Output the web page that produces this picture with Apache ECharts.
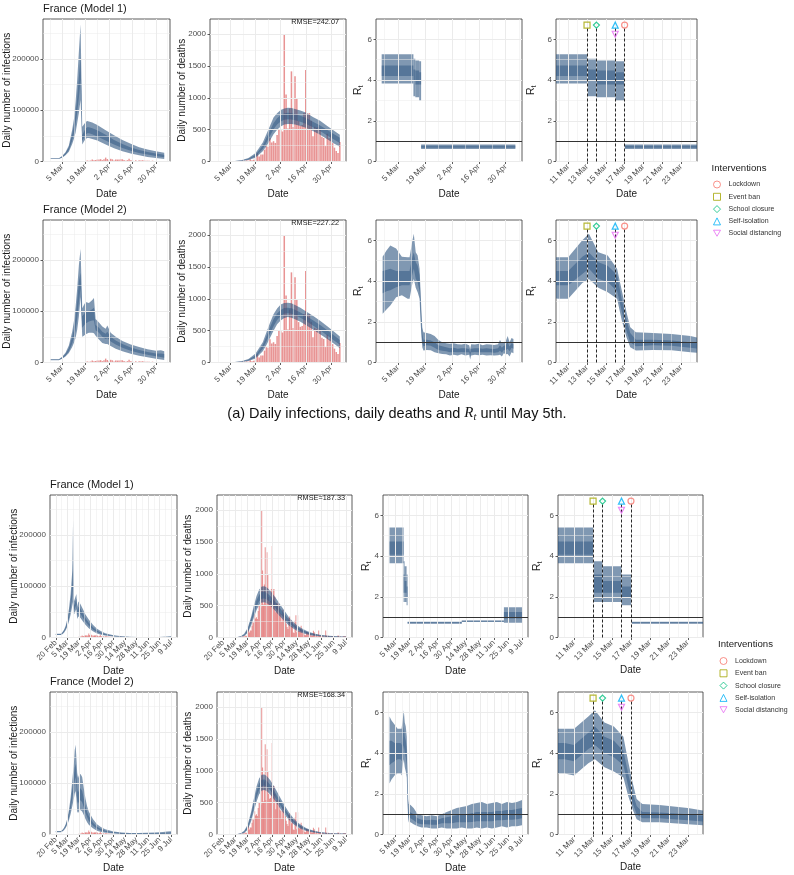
<!DOCTYPE html>
<html>
<head>
<meta charset="utf-8">
<script src="https://cdn.jsdelivr.net/npm/echarts@6/dist/echarts.min.js"></script>
<style>
  html, body { margin: 0; padding: 0; background: #fff; }
  #chart { width: 794px; height: 875px; }
</style>
</head>
<body>
<div id="chart"></div>
<script>
// days are counted from 20 Feb 2020 (day 0): 1 Mar = 10, 1 Apr = 41, 1 May = 71
const MONTHS = ['Jan', 'Feb', 'Mar', 'Apr', 'May', 'Jun', 'Jul'];

const ticksTop = [14, 28, 42, 56, 70];
const ticksLong = [0, 14, 28, 42, 56, 70, 84, 98, 112, 126, 140];
const ticksZoom = [20, 22, 24, 26, 28, 30, 32];
const ticksInf = [0, 100000, 200000];
const ticksDeaths = [0, 500, 1000, 1500, 2000];
const ticksRt = [0, 2, 4, 6];

// reported data, one value per day from day 10 (1 Mar) to day 140 (9 Jul)
const firstObsDay = 10;
const deaths = [
  0, 1, 1, 0, 2, 2, 3, 2, 8, 11,
  3, 15, 13, 18, 12, 36, 21, 27, 69, 128,
  78, 112, 112, 186, 240, 231, 365, 299, 319, 292, 418,
  499, 509, 471, 2004, 1053, 518, 833, 1417, 541, 1341,
  987, 635, 561, 574, 762, 1438, 753, 761, 642, 395,
  547, 531, 544, 516, 389, 369, 242, 437, 367, 427,
  289, 218, 166, 135, 306, 330, 278, 178, 243, 80,
  70, 263, 348, 83, 351, 104, 96, 131, 186, 110,
  65, 74, 43, 35, 90, 83, 65, 66, 52, 57,
  31, 31, 107, 81, 44, 46, 27, 13, 110, 23,
  27, 28, 24, 29, 10, 9, 111, 28, 14, 28,
  13, 10, 9, 23, 14, 11, 15, 6, 4, 2,
  30, 28, 17, 11, 2, 4, 14, 25, 12, 23
];
const cases = [
  30, 43, 61, 72, 73, 138, 190, 103, 410, 286,
  372, 497, 595, 785, 838, 924, 1210, 1097, 1404, 1861,
  1617, 1847, 3838, 2446, 2931, 3922, 3809, 4611, 2599, 4376, 7578,
  4861, 2116, 5233, 4267, 1873, 3912, 3777, 3881, 4286, 4342,
  3114, 1613, 2673, 5497, 2633, 2641, 405, 2569, 785, 2680,
  1773, 2479, 1802, 1653, 1501, 1435, 425, 1609, 1048, 1000,
  921, 801, 794, 580, 696, 1002, 600, 1300, 1284, 579,
  456, 802, 1000, 700, 600, 400, 300, 900, 600, 500,
  500, 500, 400, 300, 250, 400, 500, 300, 300, 250,
  200, 300, 400, 500, 600, 400, 300, 250, 300, 400,
  500, 450, 400, 350, 300, 400, 450, 500, 400, 350,
  300, 450, 500, 600, 400, 350, 500, 550, 400, 300,
  400, 500, 550, 600, 500, 450, 600, 650, 500, 450
];

// Model 1, until 5 May: daily infections (90% and 50% intervals)
const inf1aDays = [7, 12, 14, 16, 18, 20, 21, 22, 23, 24, 25, 26, 27, 28, 29, 30, 32, 35, 40, 45, 50, 55, 60, 65, 70, 75];
const inf1aLo90 = [4800, 4800, 7500, 12000, 19000, 34000, 44000, 56000, 75000, 95000, 120000, 33000, 39000, 44000, 46000, 46000, 44000, 41000, 33000, 26000, 20000, 15500, 12000, 9000, 7000, 5000];
const inf1aHi90 = [6200, 6200, 10500, 18000, 31000, 62000, 82000, 115000, 160000, 215000, 268000, 68000, 72000, 77000, 79000, 78000, 76000, 71000, 61000, 51000, 42000, 34500, 28000, 23500, 20000, 17000];
const inf1aLo50 = [5200, 5200, 8300, 13700, 22500, 41000, 54000, 71000, 96000, 125000, 160000, 40000, 46000, 52000, 55000, 55000, 53000, 49000, 41000, 33000, 26500, 21000, 16800, 13500, 10800, 8500];
const inf1aHi50 = [5800, 5800, 9700, 16500, 27500, 53000, 70000, 93000, 125000, 165000, 205000, 51000, 58000, 64000, 67000, 67000, 65000, 61000, 52000, 42000, 34000, 27500, 22500, 18500, 15500, 13000];

// Model 2, until 5 May: daily infections
const inf2aDays = [7, 12, 14, 16, 18, 20, 21, 22, 23, 24, 25, 26, 27, 28, 30, 32, 33, 34, 36, 38, 40, 41, 43, 46, 50, 55, 60, 65, 70, 73, 75];
const inf2aLo90 = [4500, 4500, 7200, 11500, 18500, 30000, 38000, 48000, 64000, 90000, 128000, 50000, 52000, 55000, 58000, 58000, 57000, 52000, 45000, 38000, 36000, 36000, 32000, 27000, 22000, 17000, 13000, 10000, 7500, 6000, 5000];
const inf2aHi90 = [6500, 6500, 11000, 19000, 33000, 60000, 80000, 108000, 145000, 190000, 222000, 106000, 112000, 118000, 116000, 122000, 126000, 85000, 78000, 70000, 66000, 72000, 58000, 50000, 42000, 35000, 30000, 26000, 23000, 24000, 22000];
const inf2aLo50 = [5000, 5000, 8200, 13400, 22000, 37000, 48000, 63000, 86000, 118000, 145000, 68000, 72000, 76000, 80000, 82000, 82000, 63000, 58000, 50000, 46000, 48000, 41000, 35000, 29000, 23000, 18500, 15000, 12000, 10500, 9500];
const inf2aHi50 = [6000, 6000, 9800, 16600, 28000, 50000, 66000, 88000, 120000, 158000, 175000, 90000, 94000, 99000, 100000, 104000, 107000, 73000, 68000, 60000, 56000, 60000, 50000, 43000, 36000, 29500, 24500, 20500, 17500, 17500, 16500];

// daily deaths, until 5 May (both models share the days)
const dthaDays = [10, 15, 20, 24, 28, 32, 34, 36, 38, 40, 42, 44, 46, 48, 50, 53, 56, 60, 64, 68, 72, 75];
const dth1aLo90 = [0, 1, 7, 22, 60, 160, 240, 330, 430, 500, 550, 580, 590, 590, 580, 560, 530, 480, 420, 350, 280, 230];
const dth1aHi90 = [1, 4, 20, 55, 135, 300, 430, 560, 690, 760, 810, 835, 845, 840, 825, 800, 770, 700, 640, 560, 480, 420];
const dth1aLo50 = [0, 1.5, 10, 30, 78, 195, 295, 400, 505, 580, 630, 655, 665, 662, 650, 625, 595, 540, 480, 410, 340, 290];
const dth1aHi50 = [0.5, 2.5, 15, 42, 105, 250, 370, 485, 600, 680, 730, 755, 765, 760, 745, 718, 688, 625, 565, 495, 425, 375];
const dth2aLo90 = [0, 1, 7, 22, 62, 175, 270, 385, 500, 600, 660, 700, 715, 705, 680, 640, 590, 520, 445, 370, 290, 225];
const dth2aHi90 = [1, 4, 20, 55, 140, 320, 470, 620, 760, 850, 910, 935, 940, 930, 905, 860, 805, 735, 655, 570, 480, 410];
const dth2aLo50 = [0, 1.5, 10, 30, 82, 215, 330, 450, 570, 670, 730, 765, 775, 768, 745, 705, 655, 580, 505, 425, 340, 280];
const dth2aHi50 = [0.5, 2.5, 15, 44, 112, 275, 410, 550, 680, 770, 825, 855, 860, 852, 828, 785, 735, 665, 590, 505, 420, 355];

// Model 1 R_t, piecewise constant between intervention dates
const rt1aStart = [5.5, 22, 23, 25, 26];
const rt1aEnd = [22, 23, 25, 26, 75];
const rt1aLo90 = [3.83, 3.21, 3.16, 3.0, 0.61];
const rt1aHi90 = [5.27, 5.05, 4.96, 4.93, 0.84];
const rt1aLo50 = [4.2, 3.98, 3.78, 3.78, 0.67];
const rt1aHi50 = [4.72, 4.52, 4.47, 4.39, 0.77];

// Model 2 R_t, until 5 May
const rt2aDays = [6, 8, 10, 13, 16, 19, 20, 21.5, 22.2, 23.2, 24.2, 25.2, 25.7, 26.2, 26.6, 27.2, 29, 31, 33, 35, 37, 39, 41, 43, 45, 47, 49, 51, 51.5, 52, 54, 56, 58, 60, 62, 64, 66, 67, 68, 69, 70, 71, 72, 73, 74];
const rt2aHi90 = [5.2, 5.5, 5.75, 5.6, 5.2, 5.17, 5.17, 6.0, 6.32, 5.42, 5.26, 4.6, 3.54, 2.47, 1.73, 1.49, 1.45, 1.4, 1.3, 1.1, 1.0, 0.95, 0.92, 0.95, 0.9, 0.88, 0.92, 0.85, 0.65, 0.9, 0.88, 0.92, 0.85, 0.9, 0.88, 0.86, 0.9, 1.1, 0.95, 1.0, 1.05, 1.3, 1.0, 1.2, 1.15];
const rt2aLo90 = [2.4, 2.6, 2.8, 3.2, 3.3, 3.13, 3.13, 3.9, 4.1, 3.67, 3.45, 3.13, 2.06, 1.24, 0.75, 0.59, 0.62, 0.6, 0.5, 0.45, 0.42, 0.4, 0.35, 0.38, 0.35, 0.4, 0.35, 0.38, 0.15, 0.35, 0.38, 0.36, 0.38, 0.35, 0.36, 0.34, 0.36, 0.38, 0.3, 0.45, 0.4, 0.42, 0.3, 0.5, 0.45];
const rt2aLo50 = [3.4, 3.5, 3.55, 3.7, 3.8, 3.8, 3.8, 4.35, 4.6, 4.11, 3.95, 3.5, 2.5, 1.55, 1.0, 0.8, 0.85, 0.82, 0.72, 0.62, 0.58, 0.55, 0.5, 0.52, 0.5, 0.52, 0.5, 0.5, 0.32, 0.5, 0.52, 0.5, 0.5, 0.5, 0.5, 0.48, 0.5, 0.58, 0.48, 0.62, 0.6, 0.68, 0.55, 0.72, 0.68];
const rt2aHi50 = [4.5, 4.55, 4.6, 4.5, 4.5, 4.5, 4.5, 5.2, 5.4, 4.93, 4.75, 4.3, 3.1, 2.1, 1.45, 1.12, 1.12, 1.08, 1.0, 0.85, 0.8, 0.75, 0.7, 0.72, 0.68, 0.7, 0.7, 0.66, 0.48, 0.68, 0.7, 0.7, 0.68, 0.7, 0.68, 0.66, 0.7, 0.85, 0.72, 0.82, 0.85, 1.0, 0.78, 0.95, 0.9];

// Model 1, until 9 Jul: daily infections
const inf1bDays = [0, 6, 8, 10, 12, 14, 16, 18, 20, 21, 22, 23, 24, 25, 26, 27, 28, 30, 33, 36, 40, 45, 50, 55, 60, 70, 80, 90, 100, 110, 120, 125, 130, 135, 140];
const inf1bLo90 = [5000, 5000, 6500, 9500, 14000, 21000, 31000, 45000, 62000, 70000, 45000, 48000, 52000, 55000, 36000, 40000, 41000, 38000, 31000, 25000, 18000, 12000, 8000, 5500, 3800, 1800, 900, 500, 300, 200, 150, 150, 200, 250, 300];
const inf1bHi90 = [7500, 7500, 10000, 15000, 23000, 36000, 56000, 85000, 130000, 230000, 70000, 75000, 80000, 85000, 60000, 68000, 70000, 65000, 55000, 45000, 35000, 25000, 17000, 12000, 8500, 4500, 2500, 1600, 1200, 1000, 900, 1100, 1500, 2000, 2500];
const inf1bLo50 = [5600, 5600, 7400, 11000, 16500, 25000, 38000, 56000, 80000, 100000, 52000, 56000, 60000, 64000, 43000, 48000, 50000, 46000, 38000, 31000, 23000, 15500, 10500, 7200, 5000, 2500, 1300, 800, 550, 400, 330, 380, 500, 650, 800];
const inf1bHi50 = [6800, 6800, 8900, 13200, 20000, 31000, 47000, 70000, 105000, 150000, 62000, 66000, 71000, 76000, 52000, 58000, 60000, 56000, 47000, 38000, 29000, 20000, 13500, 9400, 6500, 3400, 1800, 1100, 800, 600, 520, 650, 850, 1100, 1400];

// Model 2, until 9 Jul: daily infections
const inf2bDays = [0, 6, 8, 10, 12, 14, 16, 18, 20, 22, 23, 24, 25, 26, 27, 28, 30, 32, 34, 36, 38, 40, 45, 50, 55, 60, 70, 80, 90, 100, 110, 120, 130, 135, 140];
const inf2bLo90 = [4500, 4500, 6000, 8500, 12500, 19000, 28000, 40000, 55000, 70000, 80000, 85000, 70000, 45000, 42000, 45000, 48000, 45000, 38000, 30000, 24000, 19000, 12000, 7500, 5000, 3500, 1800, 1000, 600, 500, 500, 500, 600, 700, 700];
const inf2bHi90 = [7000, 7000, 9000, 13000, 20000, 31000, 48000, 72000, 105000, 140000, 165000, 175000, 150000, 120000, 110000, 115000, 118000, 112000, 90000, 70000, 55000, 45000, 30000, 20000, 14000, 10000, 6000, 4000, 3000, 3000, 3500, 4000, 5000, 6000, 6500];
const inf2bLo50 = [5300, 5300, 7000, 10000, 15000, 23000, 34000, 50000, 70000, 92000, 105000, 112000, 95000, 65000, 60000, 64000, 67000, 63000, 53000, 42000, 34000, 27000, 17500, 11000, 7500, 5200, 2800, 1700, 1100, 1000, 1100, 1300, 1700, 2000, 2200];
const inf2bHi50 = [6300, 6300, 8200, 11800, 18000, 27500, 41000, 61000, 88000, 115000, 130000, 138000, 120000, 90000, 82000, 86000, 90000, 85000, 70000, 55000, 44000, 36000, 23500, 15000, 10500, 7500, 4300, 2700, 1900, 1800, 2000, 2400, 3100, 3600, 4000];

// daily deaths, until 9 Jul
const dthbDays = [0, 10, 15, 20, 24, 28, 32, 35, 38, 41, 44, 47, 50, 54, 58, 62, 66, 70, 75, 80, 85, 90, 95, 100, 105, 110, 115, 120, 125, 130, 135, 140];
const dth1bLo90 = [0, 0, 1, 7, 22, 70, 190, 310, 430, 510, 550, 555, 540, 495, 440, 375, 315, 255, 190, 140, 100, 70, 50, 35, 25, 18, 12, 9, 6, 5, 4, 3];
const dth1bHi90 = [0, 1, 4, 20, 60, 150, 330, 500, 650, 750, 800, 805, 785, 730, 660, 580, 500, 420, 320, 245, 185, 140, 105, 80, 60, 45, 35, 27, 22, 18, 16, 15];
const dth1bLo50 = [0, 0, 1.5, 10, 30, 90, 230, 360, 485, 570, 610, 615, 598, 550, 490, 425, 360, 295, 225, 168, 125, 90, 66, 48, 35, 26, 19, 14, 10, 8, 7, 6];
const dth1bHi50 = [0, 0.5, 2.5, 15, 45, 125, 290, 440, 580, 670, 715, 720, 700, 650, 585, 510, 440, 370, 280, 212, 160, 120, 90, 67, 50, 38, 29, 22, 17, 14, 12, 11];
const dth2bLo90 = [0, 0, 1, 7, 22, 75, 210, 360, 510, 630, 690, 700, 680, 625, 555, 470, 390, 315, 230, 165, 115, 80, 55, 38, 26, 18, 13, 10, 8, 7, 6, 5];
const dth2bHi90 = [0, 1, 4, 20, 60, 155, 360, 560, 750, 880, 940, 945, 915, 850, 760, 660, 560, 460, 350, 260, 190, 140, 100, 75, 55, 40, 30, 24, 20, 18, 17, 16];
const dth2bLo50 = [0, 0, 1.5, 10, 30, 95, 255, 415, 580, 700, 760, 770, 748, 690, 615, 525, 440, 360, 265, 192, 138, 98, 70, 50, 36, 26, 20, 15, 12, 11, 10, 9];
const dth2bHi50 = [0, 0.5, 2.5, 15, 45, 130, 315, 500, 675, 800, 860, 865, 840, 775, 690, 595, 505, 415, 310, 228, 165, 120, 87, 64, 47, 34, 26, 21, 17, 15, 14, 13];

// Model 1 R_t until 9 Jul
const rt1bStart = [8, 22, 23, 25, 26, 80, 122];
const rt1bEnd = [22, 23, 25, 26, 80, 122, 140];
const rt1bLo90 = [3.65, 1.75, 1.75, 1.58, 0.68, 0.76, 0.73];
const rt1bHi90 = [5.4, 3.74, 3.5, 3.09, 0.77, 0.84, 1.48];
const rt1bLo50 = [4.07, 2.2, 2.2, 1.99, 0.7, 0.78, 0.93];
const rt1bHi50 = [4.72, 3.09, 2.77, 2.51, 0.75, 0.82, 1.25];

// Model 2 R_t until 9 Jul
const rt2bDays = [8, 10, 13, 16, 19, 20, 21.5, 22.2, 23.2, 24.2, 25.2, 25.7, 26.2, 26.6, 27.2, 29, 32, 36, 40, 45, 50, 55, 60, 65, 70, 75, 80, 85, 90, 95, 100, 105, 110, 115, 120, 125, 130, 135, 140];
const rt2bHi90 = [5.8, 5.6, 5.4, 5.2, 5.2, 5.2, 5.8, 6.1, 5.5, 5.3, 4.8, 3.6, 2.5, 1.75, 1.5, 1.45, 1.3, 1.0, 0.95, 0.9, 0.95, 0.9, 1.0, 1.1, 1.2, 1.3, 1.35, 1.4, 1.5, 1.55, 1.6, 1.5, 1.55, 1.6, 1.5, 1.6, 1.55, 1.6, 1.7];
const rt2bLo90 = [2.5, 2.7, 2.9, 3.0, 3.0, 2.9, 3.5, 3.7, 3.3, 3.1, 2.8, 1.9, 1.2, 0.75, 0.6, 0.6, 0.5, 0.4, 0.35, 0.35, 0.3, 0.3, 0.35, 0.3, 0.3, 0.3, 0.35, 0.3, 0.3, 0.35, 0.3, 0.35, 0.3, 0.35, 0.4, 0.35, 0.4, 0.4, 0.45];
const rt2bLo50 = [3.4, 3.5, 3.6, 3.7, 3.7, 3.6, 4.2, 4.4, 4.0, 3.8, 3.4, 2.4, 1.5, 1.0, 0.8, 0.8, 0.7, 0.55, 0.5, 0.5, 0.48, 0.48, 0.55, 0.55, 0.55, 0.6, 0.6, 0.6, 0.62, 0.65, 0.65, 0.65, 0.65, 0.7, 0.7, 0.72, 0.72, 0.75, 0.8];
const rt2bHi50 = [4.6, 4.6, 4.5, 4.5, 4.5, 4.4, 5.0, 5.3, 4.8, 4.6, 4.1, 3.0, 2.0, 1.4, 1.1, 1.08, 1.0, 0.8, 0.72, 0.7, 0.72, 0.7, 0.8, 0.85, 0.9, 0.95, 1.0, 1.0, 1.05, 1.1, 1.1, 1.1, 1.1, 1.15, 1.15, 1.2, 1.2, 1.25, 1.3];

// interventions
const interventionNames = ['Lockdown', 'Event ban', 'School closure', 'Self-isolation', 'Social distancing'];
const interventionDays = [26, 22, 23, 25, 25];
const interventionRt = [6.7, 6.7, 6.7, 6.7, 6.25];
const interventionColors = ['#F8766D', '#A3A500', '#00BF7D', '#00B0F6', '#E76BF3'];
const interventionSymbols = ['circle', 'rect', 'diamond', 'triangle', 'path://M0,0L10,0L5,8.66Z'];

const rmseLabels = ['RMSE=242.07', 'RMSE=227.22', 'RMSE=187.33', 'RMSE=168.34'];

// ---------------------------------------------------------------------------
const FONT = 'Liberation Sans, Arial, Helvetica, sans-serif';
const OUTER = 'rgba(43,83,127,0.6)';
const INNER = 'rgba(43,83,127,0.5)';
const BAR = 'rgba(214,60,60,0.55)';

const dayLabel = (d) => {
  const t = new Date(2020, 1, 20 + d);
  return t.getDate() + ' ' + MONTHS[t.getMonth()];
};

const minorOf = (ticks, range) => {
  const step = ticks[1] - ticks[0];
  const out = [];
  for (let v = ticks[0] - step / 2; v < range[1]; v += step) if (v > range[0]) out.push(v);
  return out;
};

const grids = [];
const xAxes = [];
const yAxes = [];
const series = [];

const rtName = '{r|R}{t|t}';
const rtRich = { r: { fontSize: 10.5, fontFamily: FONT }, t: { fontSize: 7, fontFamily: FONT, padding: [6, 0, 0, 0] } };

function addPanel(rect, xr, xt, yr, yt, yName, yGap, xGap) {
  const idx = grids.length;
  const xTicks = xt.filter((v) => v >= xr[0] && v <= xr[1]);
  grids.push({
    left: rect[0], top: rect[1], width: rect[2], height: rect[3],
    show: true, borderColor: '#333', borderWidth: 0.8, backgroundColor: '#fff',
    containLabel: false, outerBoundsMode: 'none'
  });
  xAxes.push({
    gridIndex: idx, type: 'value', min: xr[0], max: xr[1],
    axisLine: { show: false }, splitLine: { show: false },
    axisTick: { show: true, customValues: xTicks, length: 2.5, lineStyle: { color: '#333', width: 0.8 } },
    axisLabel: {
      customValues: xTicks, formatter: dayLabel, rotate: 45, fontSize: 8, color: '#4d4d4d', margin: 4,
      fontFamily: FONT, showMinLabel: true, showMaxLabel: true, hideOverlap: false
    },
    name: 'Date', nameLocation: 'middle', nameGap: xGap,
    nameTextStyle: { fontSize: 10, color: '#1a1a1a', fontFamily: FONT }
  });
  yAxes.push({
    gridIndex: idx, type: 'value', min: yr[0], max: yr[1],
    axisLine: { show: false }, splitLine: { show: false },
    axisTick: { show: true, customValues: yt, length: 2.5, lineStyle: { color: '#333', width: 0.8 } },
    axisLabel: {
      customValues: yt, formatter: (v) => String(v), fontSize: 8, color: '#4d4d4d', margin: 4,
      fontFamily: FONT, showMinLabel: true, showMaxLabel: true
    },
    name: yName, nameLocation: 'middle', nameGap: yGap, nameRotate: 90, nameMoveOverlap: false,
    nameTextStyle: { fontSize: 10, color: '#1a1a1a', fontFamily: FONT, rich: rtRich }
  });
  // panel grid lines
  const lines = [];
  xTicks.forEach((v) => lines.push({ xAxis: v }));
  minorOf(xt, xr).forEach((v) => lines.push({ xAxis: v, lineStyle: { width: 0.5 } }));
  yt.forEach((v) => lines.push({ yAxis: v }));
  minorOf(yt, yr).forEach((v) => lines.push({ yAxis: v, lineStyle: { width: 0.5 } }));
  series.push({
    type: 'line', xAxisIndex: idx, yAxisIndex: idx, data: [], silent: true, z: 1,
    markLine: {
      silent: true, symbol: ['none', 'none'], label: { show: false }, animation: false,
      lineStyle: { color: '#ebebeb', width: 1, type: 'solid' }, emphasis: { disabled: true },
      data: lines
    }
  });
  return idx;
}

function polyBand(idx, xs, lo, hi, fill, z) {
  series.push({
    type: 'custom', xAxisIndex: idx, yAxisIndex: idx, z, silent: true, clip: true,
    data: xs.map((x, k) => [x, lo[k], hi[k]]),
    encode: { x: 0, y: [1, 2] },
    renderItem(params, api) {
      if (params.dataIndex !== 0) return null;
      const pts = xs.map((x, k) => api.coord([x, hi[k]]));
      for (let k = xs.length - 1; k >= 0; k--) pts.push(api.coord([xs[k], lo[k]]));
      return { type: 'polygon', shape: { points: pts }, style: { fill } };
    }
  });
}

function stepBand(idx, x0, x1, lo, hi, fill, z) {
  series.push({
    type: 'custom', xAxisIndex: idx, yAxisIndex: idx, z, silent: true, clip: true,
    data: x0.map((a, k) => [a, x1[k], lo[k], hi[k]]),
    encode: { x: [0, 1], y: [2, 3] },
    renderItem(params, api) {
      const a = api.coord([api.value(0), api.value(3)]);
      const b = api.coord([api.value(1), api.value(2)]);
      return { type: 'rect', shape: { x: a[0], y: a[1], width: b[0] - a[0], height: b[1] - a[1] }, style: { fill } };
    }
  });
}

function bars(idx, values, lastDay, rect, xr) {
  const pxPerDay = rect[2] / (xr[1] - xr[0]);
  series.push({
    type: 'bar', xAxisIndex: idx, yAxisIndex: idx, z: 2, silent: true,
    barWidth: pxPerDay * 0.85,
    itemStyle: { color: BAR },
    data: values.map((v, k) => [firstObsDay + k, v]).filter((p) => p[0] <= lastDay)
  });
}

function rtOne(idx) {
  series.push({
    type: 'line', xAxisIndex: idx, yAxisIndex: idx, data: [], silent: true, z: 6,
    markLine: {
      silent: true, symbol: ['none', 'none'], label: { show: false }, animation: false,
      lineStyle: { color: '#333', width: 1, type: 'solid' }, emphasis: { disabled: true },
      data: [{ yAxis: 1 }]
    }
  });
}

function interventions(idx) {
  interventionNames.forEach((name, k) => {
    const drawn = interventionDays.indexOf(interventionDays[k]) < k;
    series.push({
      type: 'scatter', name, xAxisIndex: idx, yAxisIndex: idx, z: 8, silent: true,
      symbol: interventionSymbols[k], symbolSize: 6,
      itemStyle: { color: 'rgba(255,255,255,0)', borderColor: interventionColors[k], borderWidth: 1.2 },
      data: [[interventionDays[k], interventionRt[k]]],
      markLine: drawn ? undefined : {
        silent: true, symbol: ['none', 'none'], label: { show: false }, animation: false,
        lineStyle: { color: '#111', width: 0.9, type: [3, 2] }, emphasis: { disabled: true },
        data: [[{ coord: [interventionDays[k], 0] }, { coord: [interventionDays[k], 6.55] }]]
      }
    });
  });
}

// layout of the 16 panels
const colsTop = [[43, 127], [210, 136], [376, 146], [556, 141]];
const colsBottom = [[50, 127], [217, 135], [383, 145], [558, 145]];
const rowTops = [19, 220, 495, 692];
const yNameGapsTop = [30.8, 22.8, 11.7, 18.3];
const yNameGapsBottom = [31.2, 23.5, 10.3, 14];

const rowsCfg = [
  { cols: colsTop, gaps: yNameGapsTop, xGap: 27, xr: [2.55, 78.45], xrRt: [2.55, 78.45], xrZoom: [18.7, 33.7], xt: ticksTop, last: 75,
    inf: [inf1aDays, inf1aLo90, inf1aHi90, inf1aLo50, inf1aHi50],
    dth: [dthaDays, dth1aLo90, dth1aHi90, dth1aLo50, dth1aHi50],
    steps: [rt1aStart, rt1aEnd, rt1aLo90, rt1aHi90, rt1aLo50, rt1aHi50] },
  { cols: colsTop, gaps: yNameGapsTop, xGap: 27, xr: [2.55, 78.45], xrRt: [2.55, 78.45], xrZoom: [18.7, 33.7], xt: ticksTop, last: 75,
    inf: [inf2aDays, inf2aLo90, inf2aHi90, inf2aLo50, inf2aHi50],
    dth: [dthaDays, dth2aLo90, dth2aHi90, dth2aLo50, dth2aHi50],
    rt: [rt2aDays, rt2aLo90, rt2aHi90, rt2aLo50, rt2aHi50] },
  { cols: colsBottom, gaps: yNameGapsBottom, xGap: 24, xr: [-7, 147], xrRt: [1.5, 146], xrZoom: [18.3, 33.6], xt: ticksLong, last: 140,
    inf: [inf1bDays, inf1bLo90, inf1bHi90, inf1bLo50, inf1bHi50],
    dth: [dthbDays, dth1bLo90, dth1bHi90, dth1bLo50, dth1bHi50],
    steps: [rt1bStart, rt1bEnd, rt1bLo90, rt1bHi90, rt1bLo50, rt1bHi50] },
  { cols: colsBottom, gaps: yNameGapsBottom, xGap: 24, xr: [-7, 147], xrRt: [1.5, 146], xrZoom: [18.3, 33.6], xt: ticksLong, last: 140,
    inf: [inf2bDays, inf2bLo90, inf2bHi90, inf2bLo50, inf2bHi50],
    dth: [dthbDays, dth2bLo90, dth2bHi90, dth2bLo50, dth2bHi50],
    rt: [rt2bDays, rt2bLo90, rt2bHi90, rt2bLo50, rt2bHi50] }
];

const titles = [];

rowsCfg.forEach((cfg, r) => {
  const top = rowTops[r];
  const h = 142.5;
  const rects = cfg.cols.map((c) => [c[0], top, c[1], h]);

  // infections
  const p1 = addPanel(rects[0], cfg.xr, cfg.xt, [0, 278000], ticksInf, 'Daily number of infections', cfg.gaps[0], cfg.xGap);
  bars(p1, cases, cfg.last, rects[0], cfg.xr);
  polyBand(p1, cfg.inf[0], cfg.inf[1], cfg.inf[2], OUTER, 3);
  polyBand(p1, cfg.inf[0], cfg.inf[3], cfg.inf[4], INNER, 4);

  // deaths
  const p2 = addPanel(rects[1], cfg.xr, cfg.xt, [0, 2240], ticksDeaths, 'Daily number of deaths', cfg.gaps[1], cfg.xGap);
  bars(p2, deaths, cfg.last, rects[1], cfg.xr);
  polyBand(p2, cfg.dth[0], cfg.dth[1], cfg.dth[2], OUTER, 3);
  polyBand(p2, cfg.dth[0], cfg.dth[3], cfg.dth[4], INNER, 4);

  // R_t, full period and zoom around the interventions
  const p3 = addPanel(rects[2], cfg.xrRt, cfg.xt, [0, 7], ticksRt, rtName, cfg.gaps[2], cfg.xGap);
  const p4 = addPanel(rects[3], cfg.xrZoom, ticksZoom, [0, 7], ticksRt, rtName, cfg.gaps[3], cfg.xGap);
  [p3, p4].forEach((p) => {
    if (cfg.steps) {
      const s = cfg.steps;
      stepBand(p, s[0], s[1], s[2], s[3], OUTER, 3);
      stepBand(p, s[0], s[1], s[4], s[5], INNER, 4);
    } else {
      polyBand(p, cfg.rt[0], cfg.rt[1], cfg.rt[2], OUTER, 3);
      polyBand(p, cfg.rt[0], cfg.rt[3], cfg.rt[4], INNER, 4);
    }
    rtOne(p);
  });
  interventions(p4);

  titles.push({
    text: r % 2 === 0 ? 'France (Model 1)' : 'France (Model 2)',
    left: cfg.cols[0][0], top: top - 16, padding: 0,
    textStyle: { fontSize: 11, fontWeight: 'normal', color: '#1a1a1a', fontFamily: FONT }
  });
  titles.push({
    text: rmseLabels[r], right: 794 - (cfg.cols[1][0] + cfg.cols[1][1] - 7), top: top - 1, padding: 0,
    textStyle: { fontSize: 7.3, fontWeight: 'normal', color: '#1a1a1a', fontFamily: FONT }
  });
});

titles.push({
  text: '(a) Daily infections, daily deaths and {i|R}{s|t} until May 5th.',
  left: 'center', top: 404, padding: 0,
  textStyle: {
    fontSize: 14.5, fontWeight: 'normal', color: '#111', fontFamily: FONT,
    rich: {
      i: { fontSize: 15, fontStyle: 'italic', fontFamily: 'Liberation Serif, serif', color: '#111' },
      s: { fontSize: 10.5, fontStyle: 'italic', fontFamily: 'Liberation Serif, serif', color: '#111', padding: [8, 0, 0, 0] }
    }
  }
});
titles.push({ text: 'Interventions', left: 711.5, top: 163, padding: 0,
  textStyle: { fontSize: 9.6, fontWeight: 'normal', color: '#1a1a1a', fontFamily: FONT } });
titles.push({ text: 'Interventions', left: 718, top: 639, padding: 0,
  textStyle: { fontSize: 9.6, fontWeight: 'normal', color: '#1a1a1a', fontFamily: FONT } });

const legendData = interventionNames.map((n, k) => ({
  name: n, icon: interventionSymbols[k],
  itemStyle: { color: 'rgba(255,255,255,0)', borderColor: interventionColors[k], borderWidth: 1 }
}));
const legendBase = {
  orient: 'vertical', itemWidth: 7, itemHeight: 7, itemGap: 4.3, padding: 0, selectedMode: false,
  textStyle: { fontSize: 7, color: '#333', fontFamily: FONT, padding: [0, 0, 0, 3] },
  data: legendData
};

const chart = echarts.init(document.getElementById('chart'), null, { renderer: 'canvas' });
chart.setOption({
  animation: false,
  backgroundColor: '#fff',
  textStyle: { fontFamily: FONT },
  title: titles,
  legend: [
    Object.assign({}, legendBase, { left: 713, top: 180.5 }),
    Object.assign({}, legendBase, { left: 719.5, top: 657 })
  ],
  grid: grids,
  xAxis: xAxes,
  yAxis: yAxes,
  series
});
</script>
</body>
</html>
